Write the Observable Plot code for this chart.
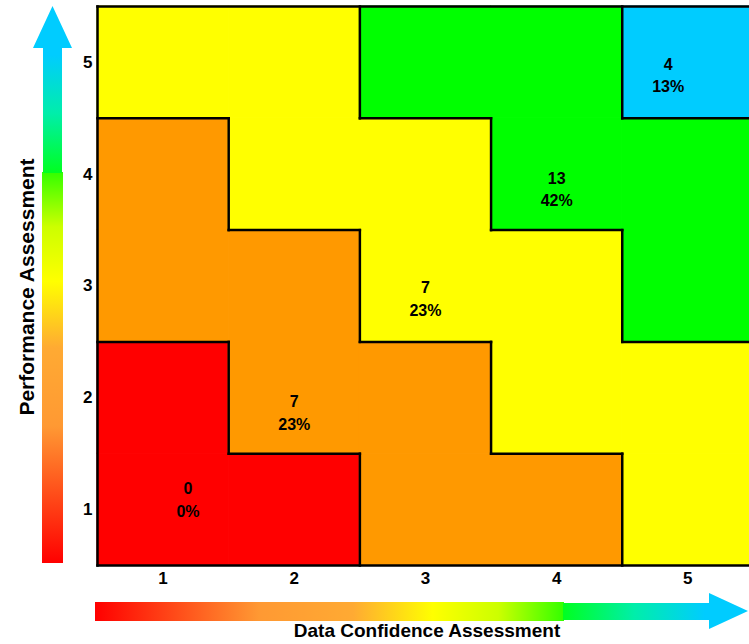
<!DOCTYPE html>
<html>
<head>
<meta charset="utf-8">
<script src="https://cdn.jsdelivr.net/npm/d3@7"></script>
<script src="https://cdn.jsdelivr.net/npm/@observablehq/plot@0.6"></script>
<style>
  html, body { margin: 0; padding: 0; background: #fff; overflow: hidden; }
  #chart { width: 749px; height: 644px; }
</style>
</head>
<body>
<div id="chart"></div>
<script>
// ---- Data ----
const xTicks = [1, 2, 3, 4, 5];
const yTicks = [1, 2, 3, 4, 5];
const zones = ["Red", "Orange", "Yellow", "Green", "Blue"];
const zoneColors = ["#ff0000", "#ff9900", "#ffff00", "#00ff00", "#00ccff"];
// zone grid, rows from y = 1 (bottom) to y = 5 (top), columns x = 1..5
const row1 = ["Red", "Red", "Orange", "Orange", "Yellow"];
const row2 = ["Red", "Orange", "Orange", "Yellow", "Yellow"];
const row3 = ["Orange", "Orange", "Yellow", "Yellow", "Green"];
const row4 = ["Orange", "Yellow", "Yellow", "Green", "Green"];
const row5 = ["Yellow", "Yellow", "Green", "Green", "Blue"];
const counts = [0, 7, 7, 13, 4];
const percents = ["0%", "23%", "23%", "42%", "13%"];
const labelX = [1.19, 2.0, 3.0, 4.0, 4.85];
const labelY = [1.1, 1.88, 2.9, 3.88, 4.9];
const xTitle = "Data Confidence Assessment";
const yTitle = "Performance Assessment";

// ---- Derived tables ----
const grid = [row1, row2, row3, row4, row5];
const colorOf = z => zoneColors[zones.indexOf(z)];
const cells = [];
grid.forEach((row, yi) => row.forEach((z, xi) => cells.push({x: xTicks[xi], y: yTicks[yi], zone: z})));
const zoneAt = (x, y) => (grid[y - 1] || [])[x - 1];
const edges = [];
for (const c of cells) {
  const right = zoneAt(c.x + 1, c.y);
  if (right !== undefined && right !== c.zone)
    edges.push({x1: c.x + 0.5, y1: c.y - 0.5, x2: c.x + 0.5, y2: c.y + 0.5});
  const up = zoneAt(c.x, c.y + 1);
  if (up !== undefined && up !== c.zone)
    edges.push({x1: c.x - 0.5, y1: c.y + 0.5, x2: c.x + 0.5, y2: c.y + 0.5});
}
// outer frame (left, bottom, top, right)
edges.push({x1: 0.5, y1: 0.5, x2: 0.5, y2: 5.5});
edges.push({x1: 0.5, y1: 0.5, x2: 5.5, y2: 0.5});
edges.push({x1: 0.5, y1: 5.5, x2: 5.5, y2: 5.5});
edges.push({x1: 5.5, y1: 0.5, x2: 5.5, y2: 5.5});

const labels = zones.map((z, i) => ({zone: z, x: labelX[i], y: labelY[i], text: `${counts[i]}\n${percents[i]}`}));

const font = "'Liberation Sans', Arial, Helvetica, sans-serif";

const plot = Plot.plot({
  width: 749,
  height: 644,
  marginLeft: 97,
  marginRight: 0,
  marginTop: 6,
  marginBottom: 79,
  style: {fontFamily: font, fontWeight: "bold", color: "#000", background: "#fff", overflow: "visible"},
  x: {domain: [0.5, 5.47], label: null},
  y: {domain: [0.5, 5.5], label: null},
  marks: [
    Plot.rect(cells, {x1: d => d.x - 0.5, x2: d => d.x + 0.5, y1: d => d.y - 0.5, y2: d => d.y + 0.5,
      fill: d => colorOf(d.zone), stroke: d => colorOf(d.zone), strokeWidth: 1}),
    Plot.link(edges, {x1: "x1", y1: "y1", x2: "x2", y2: "y2", stroke: "#000", strokeWidth: 2.5, strokeLinecap: "square"}),
    Plot.text(labels, {x: "x", y: "y", text: "text", fontSize: 16, fontWeight: "bold", lineHeight: 1.42, fill: "#000"}),
    Plot.axisX(xTicks, {tickSize: 0, tickPadding: 6, fontSize: 17, fontWeight: "bold", tickFormat: d => String(d)}),
    Plot.axisY(yTicks, {tickSize: 0, tickPadding: 5, fontSize: 17, fontWeight: "bold", tickFormat: d => String(d)}),
  ]
});

document.getElementById("chart").appendChild(plot);

// ---- Decorative gradient arrows and axis titles ----
const svg = d3.select(plot);
const defs = svg.insert("defs", ":first-child");
function grad(id, x1, y1, x2, y2, stops) {
  const g = defs.append("linearGradient").attr("id", id).attr("gradientUnits", "userSpaceOnUse")
    .attr("x1", x1).attr("y1", y1).attr("x2", x2).attr("y2", y2);
  stops.forEach(([o, c]) => g.append("stop").attr("offset", o).attr("stop-color", c));
}
const warmStops = [[0, "#ff0000"], [0.35, "#ff9933"], [0.55, "#ffaa33"], [0.72, "#ffff00"], [0.86, "#ccff00"], [1, "#33ff00"]];
const coolStops = [[0, "#00ff22"], [0.5, "#00eeaa"], [1, "#00ccff"]];
grad("vWarm", 0, 563, 0, 172, warmStops);
grad("vCool", 0, 172, 0, 55, coolStops);
grad("hWarm", 95, 0, 564, 0, warmStops);
grad("hCool", 564, 0, 705, 0, coolStops);

const deco = svg.append("g");
// vertical arrow
deco.append("rect").attr("x", 42).attr("y", 172).attr("width", 21).attr("height", 391).attr("fill", "url(#vWarm)");
deco.append("path").attr("d", "M43,173 L43,48 L33,48 L52.5,6 L72,48 L62,48 L62,173 Z").attr("fill", "url(#vCool)");
// horizontal arrow
deco.append("rect").attr("x", 95).attr("y", 602).attr("width", 469).attr("height", 19).attr("fill", "url(#hWarm)");
deco.append("path").attr("d", "M563,603 L709,603 L709,593 L748,611 L709,629 L709,620 L563,620 Z").attr("fill", "url(#hCool)");

// axis titles
deco.append("text").text(xTitle).attr("x", 427).attr("y", 637)
  .attr("text-anchor", "middle").attr("font-size", 19).attr("font-weight", "bold").attr("font-family", font).attr("fill", "#000");
deco.append("text").text(yTitle).attr("transform", "translate(34,287) rotate(-90)")
  .attr("text-anchor", "middle").attr("font-size", 21).attr("font-weight", "bold").attr("font-family", font).attr("fill", "#000");
</script>
</body>
</html>
